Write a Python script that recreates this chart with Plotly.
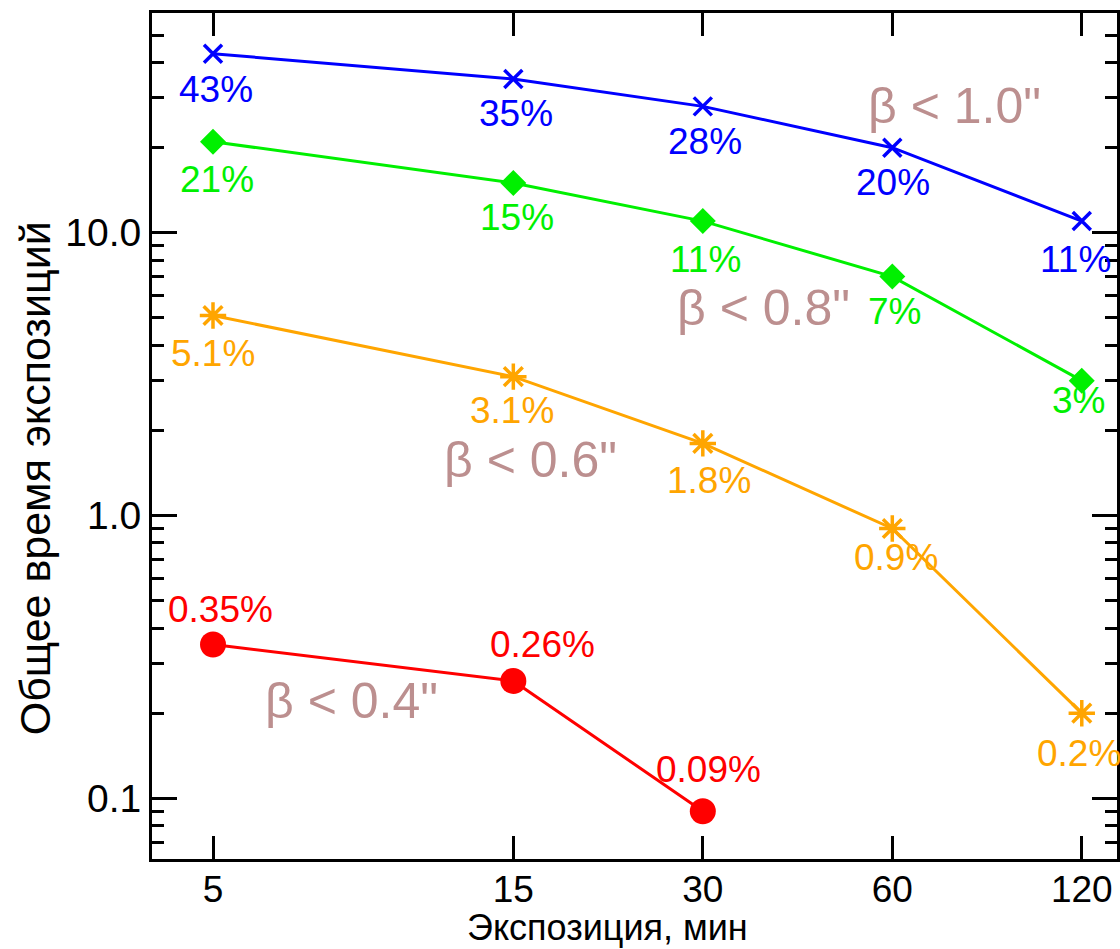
import math
import plotly.graph_objects as go

# Exposure length, minutes
exposure_min = [5, 15, 30, 60, 120]

# Total exposure time per seeing threshold (value = share, %)
beta_10 = [43, 35, 28, 20, 11]
beta_08 = [21, 15, 11, 7, 3]
beta_06 = [5.1, 3.1, 1.8, 0.9, 0.2]
beta_04 = [0.35, 0.26, 0.09]

series_names = ['β < 1.0"', 'β < 0.8"', 'β < 0.6"', 'β < 0.4"']

x_ticks = [5, 15, 30, 60, 120]
y_ticks = [0.1, 1.0, 10.0]
y_tick_text = ["0.1", "1.0", "10.0"]

x_title = "Экспозиция, мин"
y_title = "Общее время экспозиций"

FONT = "Liberation Sans"
BETA_COLOR = "#bc8f8f"


def fmt(v):
    return f"{v:g}%"


series = [
    dict(y=beta_10, color="#0000ff", symbol="x-thin-open", size=18, lw=3.5,
         dx=[3, 3, 2, 1, -6], dy=[-36, -35, -35, -35, -38]),
    dict(y=beta_08, color="#00f000", symbol="diamond", size=20, lw=0,
         dx=[4, 4, 3, 2, -3], dy=[-38, -34, -38, -35, -20]),
    dict(y=beta_06, color="#ffa500", symbol="asterisk-open", size=22, lw=3.5,
         dx=[0, -1, 6, 4, -3], dy=[-38, -34, -37, -29, -40]),
    dict(y=beta_04, color="#ff0000", symbol="circle", size=26, lw=0,
         dx=[7, 29, 6], dy=[35, 36, 42]),
]

fig = go.Figure()
annotations = []
for s in series:
    xs = exposure_min[:len(s["y"])]
    fig.add_trace(go.Scatter(
        x=xs, y=s["y"], mode="lines+markers",
        line=dict(color=s["color"], width=3),
        marker=dict(symbol=s["symbol"], size=s["size"], color=s["color"],
                    line=dict(color=s["color"], width=s["lw"])),
        showlegend=False,
    ))
    for xv, yv, dx, dy in zip(xs, s["y"], s["dx"], s["dy"]):
        annotations.append(dict(
            x=math.log10(xv), y=math.log10(yv), xref="x", yref="y",
            text=fmt(yv), showarrow=False, xshift=dx, yshift=dy,
            font=dict(family=FONT, size=37, color=s["color"]),
        ))

# Threshold captions placed next to their curves
caption_pos = [(75.3, 28.1), (37.4, 5.4), (16.0, 1.57), (8.3, 0.22)]
for name, (cx, cy) in zip(series_names, caption_pos):
    annotations.append(dict(
        x=math.log10(cx), y=math.log10(cy), xref="x", yref="y",
        text=name, showarrow=False,
        font=dict(family=FONT, size=50, color=BETA_COLOR),
    ))

# Axis titles
annotations.append(dict(
    x=0.472, y=0, xref="paper", yref="paper", yanchor="middle",
    yshift=-68, text=x_title, showarrow=False,
    font=dict(family=FONT, size=36, color="black"),
))
annotations.append(dict(
    x=0, y=0.45, xref="paper", yref="paper", xanchor="center", yanchor="middle",
    xshift=-117, textangle=-90, text=y_title, showarrow=False,
    font=dict(family=FONT, size=43, color="black"),
))

axis_common = dict(
    showline=True, linewidth=3, linecolor="black", mirror="ticks",
    ticks="inside", tickwidth=2.5, tickcolor="black",
    showgrid=False, zeroline=False, automargin=False,
)

fig.update_xaxes(
    type="log", range=[math.log10(4.0), math.log10(136.5)],
    tickvals=x_ticks, ticktext=[str(v) for v in x_ticks], ticklen=23,
    tickfont=dict(family=FONT, size=37, color="black"),
    ticklabelstandoff=-4,
    **axis_common,
)
fig.update_yaxes(
    type="log", range=[math.log10(0.061), math.log10(59.9)],
    tickvals=y_ticks, ticktext=y_tick_text, ticklen=25,
    tickfont=dict(family=FONT, size=39, color="black"),
    minor=dict(ticks="inside", ticklen=12, tickwidth=2.5, tickcolor="black",
               dtick="D1", showgrid=False),
    **axis_common,
)

fig.update_layout(
    width=1120, height=949,
    margin=dict(l=152, r=3, t=13, b=90),
    paper_bgcolor="white", plot_bgcolor="white",
    annotations=annotations,
)

fig.write_html("out.html")
